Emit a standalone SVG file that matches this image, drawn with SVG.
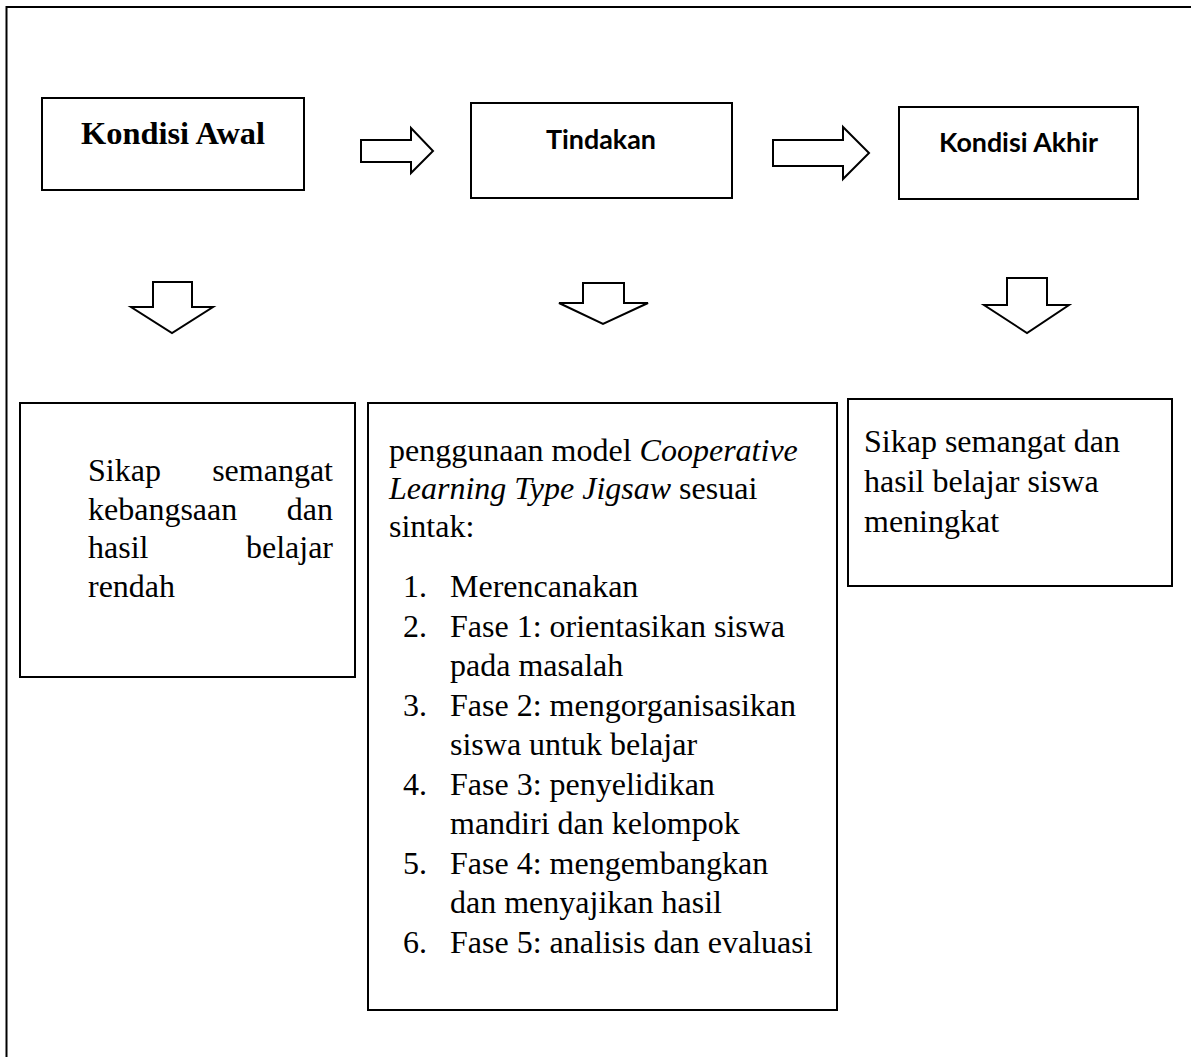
<svg xmlns="http://www.w3.org/2000/svg" width="1191" height="1057" viewBox="0 0 1191 1057">
<style>
.box{fill:#fff;stroke:#000;stroke-width:2}
.arr{fill:#fff;stroke:#000;stroke-width:2;stroke-linejoin:miter}
.frame{fill:none;stroke:#000;stroke-width:2}
.ser{font-size:32px;fill:#000}
.serb{font-size:32px;font-weight:bold;fill:#000}
.sans{font-size:27px;font-weight:bold;fill:#000}
.it{font-style:italic}
</style>
<rect width="1191" height="1057" fill="#fff"/>
<path class="frame" d="M6.5,1057 V7 H1191"/>

<g id="kondisi-awal" font-family="Liberation Serif, Times New Roman, serif">
<rect class="box" x="42" y="98" width="262" height="92"/>
<text class="serb" font-family="Liberation Serif, serif" x="81" y="144" textLength="184" lengthAdjust="spacingAndGlyphs">Kondisi Awal</text>
</g>

<g id="tindakan" font-family="Lato, Open Sans, Liberation Sans, sans-serif">
<rect class="box" x="471" y="103" width="261" height="95"/>
<text class="sans" x="601" y="149" text-anchor="middle" textLength="110" lengthAdjust="spacingAndGlyphs">Tindakan</text>
</g>

<g id="kondisi-akhir" font-family="Lato, Open Sans, Liberation Sans, sans-serif">
<rect class="box" x="899" y="107" width="239" height="92"/>
<text class="sans" x="939" y="152" textLength="159" lengthAdjust="spacingAndGlyphs">Kondisi Akhir</text>
</g>

<g id="awal-detail" font-family="Liberation Serif, Times New Roman, serif">
<rect class="box" x="20" y="403" width="335" height="274"/>
<text class="ser" x="88" y="481">Sikap</text>
<text class="ser" x="333" y="481" text-anchor="end">semangat</text>
<text class="ser" x="88" y="519.5">kebangsaan</text>
<text class="ser" x="333" y="519.5" text-anchor="end">dan</text>
<text class="ser" x="88" y="558">hasil</text>
<text class="ser" x="333" y="558" text-anchor="end">belajar</text>
<text class="ser" x="88" y="596.5">rendah</text>
</g>

<g id="tindakan-detail" font-family="Liberation Serif, Times New Roman, serif">
<rect class="box" x="368" y="403" width="469" height="607"/>
<text class="ser" x="389" y="461">penggunaan model <tspan class="it">Cooperative</tspan></text>
<text class="ser" x="389" y="499"><tspan class="it">Learning Type Jigsaw</tspan> sesuai</text>
<text class="ser" x="389" y="537">sintak:</text>
<text class="ser" x="403" y="597">1.</text>
<text class="ser" x="450" y="597">Merencanakan</text>
<text class="ser" x="403" y="636.5">2.</text>
<text class="ser" x="450" y="636.5">Fase 1: orientasikan siswa</text>
<text class="ser" x="450" y="676">pada masalah</text>
<text class="ser" x="403" y="715.5">3.</text>
<text class="ser" x="450" y="715.5">Fase 2: mengorganisasikan</text>
<text class="ser" x="450" y="755">siswa untuk belajar</text>
<text class="ser" x="403" y="794.5">4.</text>
<text class="ser" x="450" y="794.5">Fase 3: penyelidikan</text>
<text class="ser" x="450" y="834">mandiri dan kelompok</text>
<text class="ser" x="403" y="873.5">5.</text>
<text class="ser" x="450" y="873.5">Fase 4: mengembangkan</text>
<text class="ser" x="450" y="913">dan menyajikan hasil</text>
<text class="ser" x="403" y="952.5">6.</text>
<text class="ser" x="450" y="952.5">Fase 5: analisis dan evaluasi</text>
</g>

<g id="akhir-detail" font-family="Liberation Serif, Times New Roman, serif">
<rect class="box" x="848" y="399" width="324" height="187"/>
<text class="ser" x="864" y="452">Sikap semangat dan</text>
<text class="ser" x="864" y="492">hasil belajar siswa</text>
<text class="ser" x="864" y="532">meningkat</text>
</g>

<g id="connectors">
<polygon class="arr" points="361,140 411,140 411,128 433,151 411,173 411,162 361,162"/>
<polygon class="arr" points="773,140 843,140 843,127 869,153 843,179 843,166 773,166"/>
<polygon class="arr" points="153,282 192,282 192,307 213,307 172,333 131,307 153,307"/>
<polygon class="arr" points="583,283 624,283 624,303 648,303 603,324 559,303 583,303"/>
<polygon class="arr" points="1007,278 1047,278 1047,305 1069,305 1027,333 984,305 1007,305"/>
</g>
</svg>
